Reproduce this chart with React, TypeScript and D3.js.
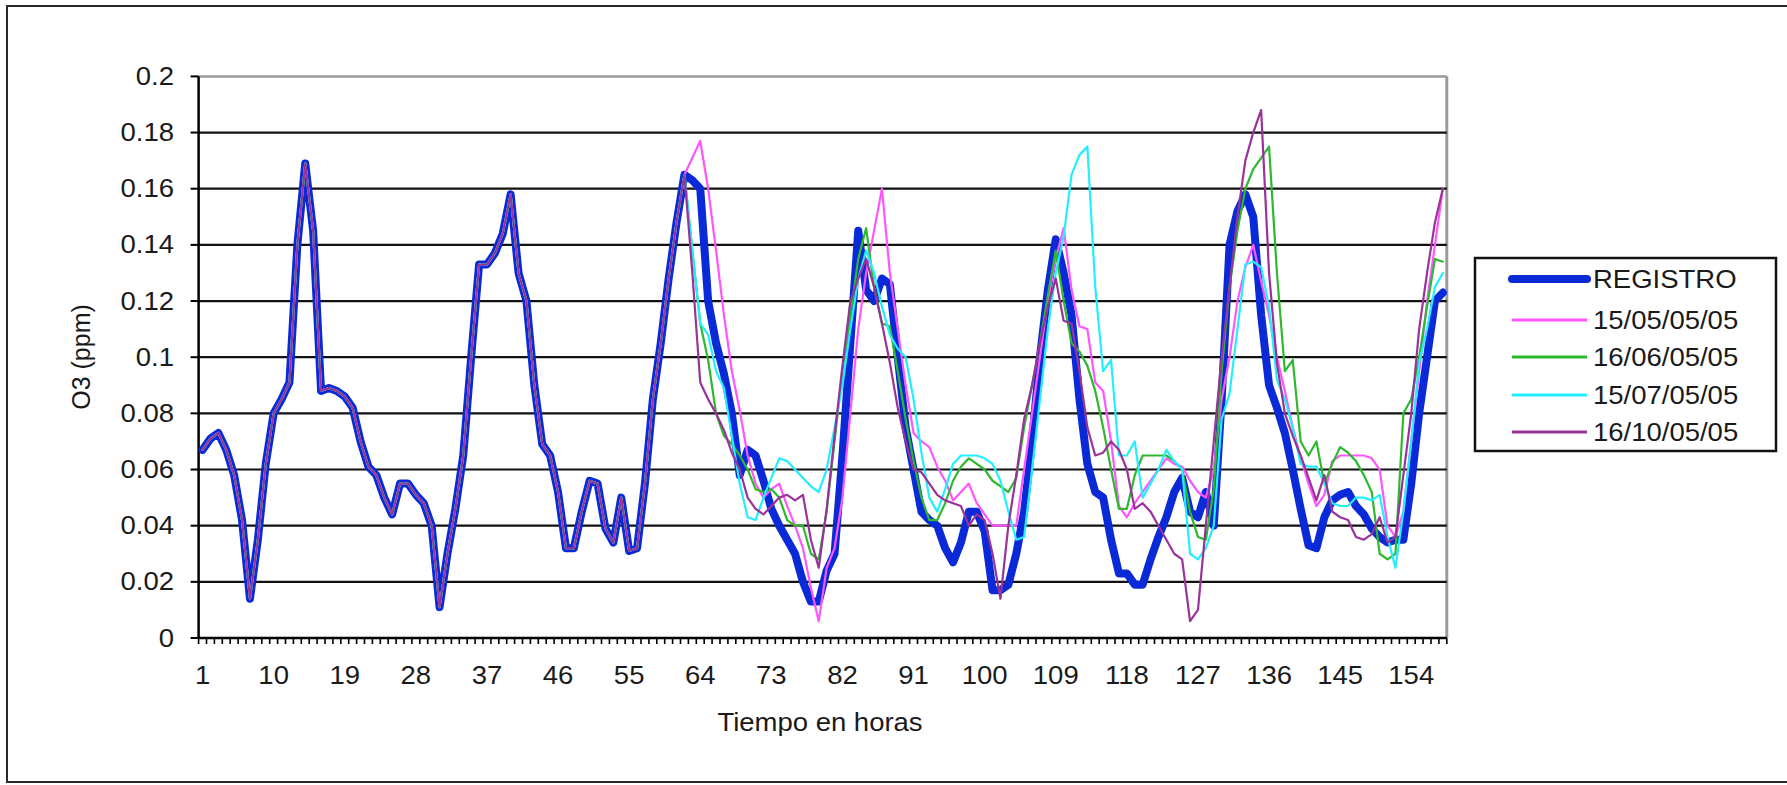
import React from 'react';
import * as d3 from 'd3';

const HOURS: number[] = d3.range(1, 159);
const X_TICK_LABELS = [1, 10, 19, 28, 37, 46, 55, 64, 73, 82, 91, 100, 109, 118, 127, 136, 145, 154];
const Y_TICK_VALUES = [0, 0.02, 0.04, 0.06, 0.08, 0.1, 0.12, 0.14, 0.16, 0.18, 0.2];

// Measured ozone (hours 1..158)
const registro = [
  0.067, 0.071, 0.073, 0.067, 0.058, 0.042, 0.014, 0.035, 0.062, 0.08,
  0.085, 0.091, 0.14, 0.169, 0.145, 0.088, 0.089, 0.088, 0.086, 0.082,
  0.07, 0.061, 0.058, 0.05, 0.044, 0.055, 0.055, 0.051, 0.048, 0.04,
  0.011, 0.03, 0.046, 0.065, 0.1, 0.133, 0.133, 0.137, 0.144, 0.158,
  0.13, 0.12, 0.09, 0.069, 0.065, 0.052, 0.032, 0.032, 0.045, 0.056,
  0.055, 0.039, 0.034, 0.05, 0.031, 0.032, 0.055, 0.085, 0.105, 0.128,
  0.148, 0.165, 0.163, 0.16, 0.12, 0.105, 0.094, 0.08, 0.058, 0.067,
  0.065, 0.056, 0.046, 0.04, 0.035, 0.03, 0.02, 0.013, 0.013, 0.024,
  0.03, 0.065, 0.105, 0.145, 0.124, 0.12, 0.128, 0.126, 0.1, 0.075,
  0.06, 0.045, 0.042, 0.04, 0.032, 0.027, 0.034, 0.045, 0.045, 0.038,
  0.017, 0.017, 0.019, 0.03, 0.045, 0.07, 0.1, 0.124, 0.142, 0.13,
  0.115, 0.085, 0.062, 0.052, 0.05, 0.035, 0.023, 0.023, 0.019, 0.019,
  0.028, 0.036, 0.043, 0.052, 0.057, 0.045, 0.043, 0.052, 0.04, 0.085,
  0.14, 0.152, 0.158, 0.15, 0.115, 0.09, 0.082, 0.073, 0.06, 0.046,
  0.033, 0.032, 0.043, 0.049, 0.051, 0.052, 0.047, 0.044, 0.039, 0.036,
  0.034, 0.035, 0.035, 0.055, 0.08, 0.1, 0.12, 0.123,
];

// Forecasts: identical to the record up to hour 62, own values from hour 63
const FORECAST_START = 63;

const f150505 = [
  0.171, 0.177, 0.16, 0.138, 0.115, 0.095, 0.081, 0.065, 0.055, 0.05,
  0.053, 0.055, 0.047, 0.04, 0.032, 0.018, 0.006, 0.025, 0.032, 0.05,
  0.08, 0.11, 0.13, 0.145, 0.16, 0.13, 0.11, 0.09, 0.073, 0.07,
  0.068, 0.061, 0.056, 0.049, 0.052, 0.055, 0.048, 0.044, 0.04, 0.04,
  0.04, 0.04, 0.06, 0.08, 0.1, 0.12, 0.135, 0.146, 0.124, 0.111,
  0.11, 0.091, 0.088, 0.07, 0.047, 0.043, 0.048, 0.052, 0.056, 0.06,
  0.064, 0.062, 0.061, 0.056, 0.052, 0.05, 0.06, 0.085, 0.1, 0.12,
  0.132, 0.14, 0.127, 0.115, 0.1, 0.088, 0.075, 0.064, 0.055, 0.047,
  0.051, 0.063, 0.065, 0.065, 0.065, 0.065, 0.064, 0.06, 0.04, 0.036,
  0.045, 0.07, 0.095, 0.12, 0.14, 0.16,
];

const f160605 = [
  0.138, 0.112, 0.099, 0.08, 0.072, 0.069, 0.065, 0.06, 0.053, 0.052,
  0.053, 0.05, 0.042, 0.04, 0.04, 0.03, 0.028, 0.045, 0.07, 0.095,
  0.115, 0.135, 0.146, 0.125, 0.112, 0.111, 0.095, 0.078, 0.063, 0.05,
  0.042, 0.042, 0.048, 0.056, 0.061, 0.064, 0.062, 0.06, 0.056, 0.054,
  0.052, 0.057, 0.075, 0.09, 0.105, 0.122, 0.138, 0.12, 0.105, 0.102,
  0.097, 0.088, 0.075, 0.06, 0.046, 0.046, 0.058, 0.065, 0.065, 0.065,
  0.065, 0.063, 0.06, 0.045, 0.036, 0.035, 0.053, 0.095, 0.125, 0.145,
  0.16, 0.167, 0.171, 0.175, 0.13, 0.095, 0.099, 0.07, 0.065, 0.07,
  0.055, 0.062, 0.068, 0.066, 0.063, 0.058, 0.052, 0.03, 0.028, 0.03,
  0.08, 0.085, 0.1, 0.118, 0.135, 0.134,
];

const f150705 = [
  0.138, 0.112, 0.108, 0.095, 0.089, 0.072, 0.055, 0.043, 0.042, 0.05,
  0.057, 0.064, 0.063, 0.06, 0.057, 0.054, 0.052, 0.06, 0.075, 0.09,
  0.11, 0.128, 0.138, 0.13, 0.118, 0.108, 0.103, 0.1, 0.085, 0.066,
  0.05, 0.045, 0.053, 0.062, 0.065, 0.065, 0.065, 0.064, 0.062, 0.056,
  0.045, 0.035, 0.036, 0.06, 0.085, 0.11, 0.13, 0.143, 0.165, 0.172,
  0.175, 0.125, 0.095, 0.099, 0.065, 0.065, 0.07, 0.05, 0.055, 0.06,
  0.067, 0.063, 0.06, 0.03, 0.028, 0.032, 0.04, 0.078, 0.087, 0.11,
  0.133, 0.134, 0.132, 0.118, 0.092, 0.085, 0.075, 0.062, 0.061, 0.061,
  0.055, 0.048, 0.047, 0.047, 0.05, 0.05, 0.049, 0.051, 0.036, 0.025,
  0.045, 0.07, 0.098, 0.11, 0.125, 0.13,
];

const f161005 = [
  0.13, 0.091, 0.085, 0.08, 0.074, 0.066, 0.06, 0.05, 0.046, 0.044,
  0.047, 0.05, 0.051, 0.049, 0.051, 0.035, 0.025, 0.046, 0.072, 0.097,
  0.12, 0.128, 0.135, 0.125, 0.112, 0.098, 0.082, 0.07, 0.06, 0.059,
  0.055, 0.051, 0.049, 0.048, 0.047, 0.04, 0.044, 0.042, 0.03, 0.014,
  0.04, 0.058, 0.078, 0.09, 0.105, 0.118, 0.128, 0.113, 0.112, 0.095,
  0.075, 0.065, 0.066, 0.07, 0.067, 0.06, 0.046, 0.048, 0.045, 0.04,
  0.035, 0.03, 0.028, 0.006, 0.01, 0.04, 0.07, 0.1, 0.125, 0.15,
  0.17, 0.18, 0.188, 0.13, 0.098, 0.08, 0.072, 0.065, 0.057, 0.049,
  0.058, 0.045, 0.043, 0.042, 0.036, 0.035, 0.037, 0.043, 0.034, 0.036,
  0.058, 0.08, 0.11, 0.13, 0.148, 0.16,
];

const SERIES_NAMES = ['REGISTRO', '15/05/05/05', '16/06/05/05', '15/07/05/05', '16/10/05/05'];
const SERIES_COLORS = ['#0a2ad8', '#ff55ff', '#2eb82e', '#22eeff', '#993399'];
const SERIES_WIDTHS = [8, 2.2, 2.2, 2.2, 2.2];

const FONT = '"Liberation Sans", Arial, Helvetica, sans-serif';
const SX = 1.1;

function T(props: { x: number; y: number; anchor?: string; size?: number; rotate?: number; children: React.ReactNode }) {
  const { x, y, anchor = 'middle', size = 25, rotate = 0, children } = props;
  const tr = rotate
    ? `translate(${x},${y}) rotate(${rotate})`
    : `translate(${x},${y}) scale(${SX},1)`;
  return (
    <text transform={tr} textAnchor={anchor} dominantBaseline="central" fontFamily={FONT} fontSize={size} fill="#1a1a1a">
      {children}
    </text>
  );
}

export default function App() {
  const W = 1787, H = 785;
  const L = 198.6, R = 1446.8, TOP = 76.4, BOT = 638;

  const x = d3.scalePoint<number>().domain(HOURS).range([L, R]).padding(0.5);
  const y = d3.scaleLinear().domain([0, 0.2]).range([BOT, TOP]);
  const step = x.step();

  const lineGen = d3.line<[number, number]>().x(d => x(d[0]) as number).y(d => y(d[1]));
  const withHead = (tail: number[]) => registro.slice(0, FORECAST_START - 1).concat(tail);
  const seriesValues = [registro, withHead(f150505), withHead(f160605), withHead(f150705), withHead(f161005)];
  const paths = seriesValues.map(vals => lineGen(HOURS.map((h, i) => [h, vals[i]] as [number, number])) || '');

  const catTicks = d3.range(HOURS.length + 1).map(i => L + i * step);
  const fmt = (v: number) => String(+v.toFixed(2));

  const legX = 1475, legY = 258, legW = 301, legH = 193;
  const legRows = [279, 320, 357, 395, 432];

  return (
    <svg width={W} height={H} style={{ position: 'absolute', left: 0, top: 0, background: '#fff' }}>
      <rect x={0} y={0} width={W} height={H} fill="#fff" />
      {/* outer chart frame */}
      <rect x={7} y={6} width={W + 10} height={776} fill="none" stroke="#2a2a2a" strokeWidth={2} />

      {/* plot border top/right */}
      <line x1={L} x2={R} y1={TOP} y2={TOP} stroke="#9a9a9a" strokeWidth={2.5} />
      <line x1={R} x2={R} y1={TOP} y2={BOT} stroke="#9a9a9a" strokeWidth={3} />

      {/* gridlines */}
      {Y_TICK_VALUES.filter(v => v > 0 && v < 0.2).map(v => (
        <line key={v} x1={L} x2={R} y1={y(v)} y2={y(v)} stroke="#111" strokeWidth={2.2} />
      ))}

      {/* axes */}
      <line x1={L} x2={L} y1={TOP} y2={BOT} stroke="#000" strokeWidth={2.5} />
      <line x1={L} x2={R} y1={BOT} y2={BOT} stroke="#000" strokeWidth={2.5} />
      {Y_TICK_VALUES.map(v => (
        <line key={'yt' + v} x1={L - 8} x2={L} y1={y(v)} y2={y(v)} stroke="#000" strokeWidth={2} />
      ))}
      {catTicks.map((cx, i) => (
        <line key={'xt' + i} x1={cx} x2={cx} y1={BOT} y2={BOT + 6} stroke="#000" strokeWidth={1.6} />
      ))}

      {/* tick labels */}
      {Y_TICK_VALUES.map(v => (
        <T key={'yl' + v} x={174} y={y(v)} anchor="end">{fmt(v)}</T>
      ))}
      {X_TICK_LABELS.map(h => (
        <T key={'xl' + h} x={x(h) as number} y={675}>{h}</T>
      ))}

      {/* axis titles */}
      <T x={820} y={722}>Tiempo en horas</T>
      <T x={81} y={357} rotate={-90}>O3 (ppm)</T>

      {/* series */}
      {paths.map((d, i) => (
        <path key={'s' + i} d={d} fill="none" stroke={SERIES_COLORS[i]} strokeWidth={SERIES_WIDTHS[i]}
          strokeLinejoin="round" strokeLinecap="round" />
      ))}

      {/* legend */}
      <rect x={legX} y={legY} width={legW} height={legH} fill="#fff" stroke="#111" strokeWidth={2.5} />
      {SERIES_NAMES.map((name, i) => (
        <g key={'lg' + i}>
          <line x1={1512} x2={1587} y1={legRows[i]} y2={legRows[i]} stroke={SERIES_COLORS[i]}
            strokeWidth={i === 0 ? 8 : 3} strokeLinecap={i === 0 ? 'round' : 'butt'} />
          <T x={1593} y={legRows[i]} anchor="start">{name}</T>
        </g>
      ))}
    </svg>
  );
}
